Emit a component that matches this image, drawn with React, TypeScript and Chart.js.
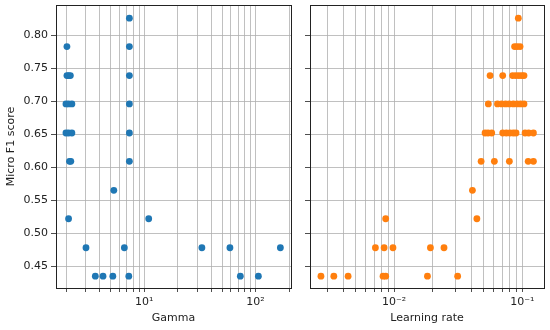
import React, { useEffect, useRef } from "react";
import { Chart, registerables } from "chart.js";

Chart.register(...registerables);

// ---- Data ----
const gammaValues = [
  7.38,
  2.03, 7.38,
  2.03, 2.1, 2.18, 7.38,
  1.99, 2.1, 2.25, 7.38,
  1.99, 2.1, 2.25, 7.38,
  2.14, 2.2, 7.38,
  5.35,
  2.1, 11.0,
  3.01, 6.65, 33, 58.9, 167,
  3.65, 4.28, 5.24, 7.29, 73, 106,
];
const gammaF1 = [
  0.826,
  0.783, 0.783,
  0.739, 0.739, 0.739, 0.739,
  0.696, 0.696, 0.696, 0.696,
  0.652, 0.652, 0.652, 0.652,
  0.609, 0.609, 0.609,
  0.565,
  0.522, 0.522,
  0.478, 0.478, 0.478, 0.478, 0.478,
  0.435, 0.435, 0.435, 0.435, 0.435, 0.435,
];

const lrValues = [
  0.093,
  0.087, 0.091, 0.096,
  0.056, 0.0703, 0.084, 0.089, 0.094, 0.099, 0.103,
  0.0543, 0.064, 0.069, 0.074, 0.079, 0.085, 0.091, 0.097, 0.103,
  0.0512, 0.054, 0.0577, 0.0703, 0.075, 0.08, 0.085, 0.0893, 0.105, 0.112, 0.122,
  0.0477, 0.0605, 0.0792, 0.111, 0.122,
  0.0408,
  0.0086, 0.0442,
  0.00715, 0.00836, 0.0098, 0.0192, 0.0245,
  0.00269, 0.00339, 0.00438, 0.0082, 0.0086, 0.0182, 0.0313,
];
const lrF1 = [
  0.826,
  0.783, 0.783, 0.783,
  0.739, 0.739, 0.739, 0.739, 0.739, 0.739, 0.739,
  0.696, 0.696, 0.696, 0.696, 0.696, 0.696, 0.696, 0.696, 0.696,
  0.652, 0.652, 0.652, 0.652, 0.652, 0.652, 0.652, 0.652, 0.652, 0.652, 0.652,
  0.609, 0.609, 0.609, 0.609, 0.609,
  0.565,
  0.522, 0.522,
  0.478, 0.478, 0.478, 0.478, 0.478,
  0.435, 0.435, 0.435, 0.435, 0.435, 0.435, 0.435,
];

const yTicks = [0.45, 0.5, 0.55, 0.6, 0.65, 0.7, 0.75, 0.8];
const gammaGridTicks = [2, 3, 4, 5, 6, 7, 8, 9, 10, 20, 30, 40, 50, 60, 70, 80, 90, 100, 200];
const gammaMajorTicks = [10, 100];
const gammaMajorLabels = ["10¹", "10²"];
const lrGridTicks = [0.003, 0.004, 0.005, 0.006, 0.007, 0.008, 0.009, 0.01, 0.02, 0.03, 0.04, 0.05, 0.06, 0.07, 0.08, 0.09, 0.1];
const lrMajorTicks = [0.01, 0.1];
const lrMajorLabels = ["10⁻²", "10⁻¹"];

const FONT = "'DejaVu Sans', sans-serif";
const TEXT = "#222222";
const GRID = "#b0b0b0";

const boxPlugin = {
  id: "box",
  afterDatasetsDraw(chart: any) {
    const { ctx, chartArea } = chart;
    ctx.save();
    ctx.strokeStyle = "#222";
    ctx.lineWidth = 1;
    ctx.strokeRect(
      Math.round(chartArea.left) + 0.5,
      Math.round(chartArea.top) + 0.5,
      Math.round(chartArea.right - chartArea.left),
      Math.round(chartArea.bottom - chartArea.top)
    );
    ctx.restore();
  },
};

function labelFor(v: number, majors: number[], labels: string[]) {
  for (let i = 0; i < majors.length; i++) {
    if (Math.abs(v - majors[i]) / majors[i] < 1e-6) return labels[i];
  }
  return "";
}

function zeroPad(s: any) {
  s.paddingTop = 0;
  s.paddingBottom = 0;
  s.paddingLeft = 0;
  s.paddingRight = 0;
}

function makeConfig(p: {
  xs: number[];
  ys: number[];
  color: string;
  xMin: number;
  xMax: number;
  gridTicks: number[];
  majors: number[];
  majorLabels: string[];
  xTitle: string;
  yWidth: number;
  showYLabels: boolean;
  padRight: number;
}): any {
  const data = p.xs.map((x, i) => ({ x, y: p.ys[i] }));
  return {
    type: "scatter",
    data: {
      datasets: [
        {
          data,
          backgroundColor: p.color,
          borderWidth: 0,
          pointRadius: 3.4,
          pointHoverRadius: 3.4,
        },
      ],
    },
    plugins: [boxPlugin],
    options: {
      responsive: false,
      animation: false,
      events: [],
      layout: { padding: { top: 5, right: p.padRight, left: 0, bottom: 0 } },
      plugins: { legend: { display: false }, tooltip: { enabled: false } },
      scales: {
        x: {
          type: "logarithmic",
          min: p.xMin,
          max: p.xMax,
          afterBuildTicks: (s: any) => {
            s.ticks = p.gridTicks.map((v) => ({ value: v }));
          },
          afterFit: (s: any) => {
            s.height = 42;
            zeroPad(s);
          },
          border: { display: false },
          grid: {
            color: GRID,
            lineWidth: 0.8,
            drawTicks: true,
            tickLength: 4,
            tickColor: "#222",
            tickWidth: 0.8,
          },
          ticks: {
            autoSkip: false,
            maxRotation: 0,
            minRotation: 0,
            padding: 4,
            color: TEXT,
            font: { family: FONT, size: 11 },
            callback: (v: any) => labelFor(Number(v), p.majors, p.majorLabels),
          },
          title: {
            display: true,
            text: p.xTitle,
            color: TEXT,
            font: { family: FONT, size: 11 },
            padding: { top: 0, bottom: 5 },
          },
        },
        y: {
          type: "linear",
          min: 0.417,
          max: 0.846,
          afterBuildTicks: (s: any) => {
            s.ticks = yTicks.map((v) => ({ value: v }));
          },
          afterFit: (s: any) => {
            s.width = p.yWidth;
            zeroPad(s);
          },
          border: { display: false },
          grid: {
            color: GRID,
            lineWidth: 0.8,
            drawTicks: true,
            tickLength: 5,
            tickColor: "#222",
            tickWidth: 0.8,
          },
          ticks: {
            autoSkip: false,
            padding: 3,
            color: TEXT,
            font: { family: FONT, size: 11 },
            callback: (v: any) => (p.showYLabels ? Number(v).toFixed(2) : ""),
          },
          title: {
            display: p.showYLabels,
            text: "Micro F1 score",
            color: TEXT,
            font: { family: FONT, size: 11 },
            padding: { top: 5, bottom: 0 },
          },
        },
      },
    },
  };
}

export default function App() {
  const leftRef = useRef<HTMLCanvasElement>(null);
  const rightRef = useRef<HTMLCanvasElement>(null);

  useEffect(() => {
    const left = new Chart(
      leftRef.current!,
      makeConfig({
        xs: gammaValues,
        ys: gammaF1,
        color: "#1f77b4",
        xMin: 1.62,
        xMax: 208,
        gridTicks: gammaGridTicks,
        majors: gammaMajorTicks,
        majorLabels: gammaMajorLabels,
        xTitle: "Gamma",
        yWidth: 56,
        showYLabels: true,
        padRight: 9,
      })
    );
    const right = new Chart(
      rightRef.current!,
      makeConfig({
        xs: lrValues,
        ys: lrF1,
        color: "#ff7f0e",
        xMin: 0.00221,
        xMax: 0.1475,
        gridTicks: lrGridTicks,
        majors: lrMajorTicks,
        majorLabels: lrMajorLabels,
        xTitle: "Learning rate",
        yWidth: 10,
        showYLabels: false,
        padRight: 6,
      })
    );
    return () => {
      left.destroy();
      right.destroy();
    };
  }, []);

  return (
    <div style={{ position: "absolute", left: 0, top: 0, width: 550, height: 330, background: "#fff" }}>
      <canvas ref={leftRef} width={300} height={330} style={{ position: "absolute", left: 0, top: 0, display: "block" }} />
      <canvas ref={rightRef} width={250} height={330} style={{ position: "absolute", left: 300, top: 0, display: "block" }} />
    </div>
  );
}
